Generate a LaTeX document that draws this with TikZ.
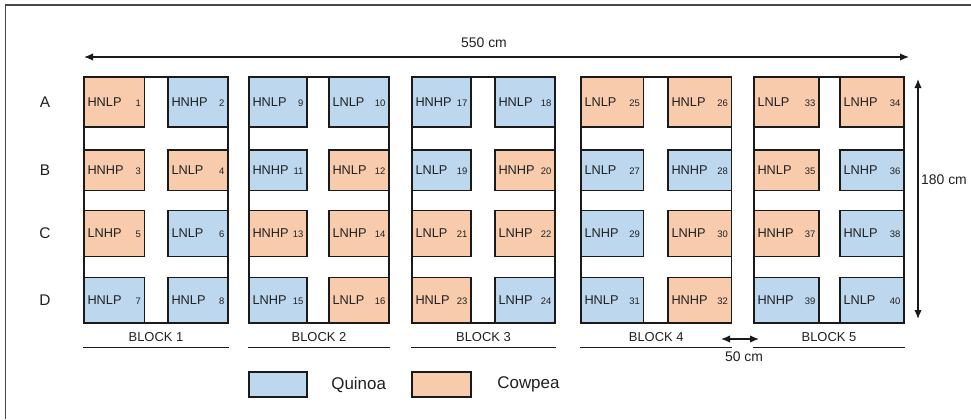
\documentclass[tikz,border=0pt]{standalone}
\usepackage{fontspec}
\setmainfont{Liberation Sans}
\usetikzlibrary{positioning,arrows.meta,calc}

\definecolor{quinoa}{HTML}{BDD7EE}
\definecolor{cowpea}{HTML}{F8CBAD}
\definecolor{edge}{HTML}{1A1A1A}
\definecolor{ink}{HTML}{202020}

% row extents (top/bottom, y grows downwards)
\def\rowtopA{77}\def\rowbotA{127}
\def\rowtopB{150}\def\rowbotB{190.5}
\def\rowtopC{210.5}\def\rowbotC{256.5}
\def\rowtopD{277.5}\def\rowbotD{323}

\newcommand{\cellnum}{\fontsize{9.5}{10}\selectfont}
% name, left, right, row, fill, treatment, plot number
\newcommand{\plotcell}[7]{%
  \edef\celltop{\csname rowtop#4\endcsname}\edef\cellbot{\csname rowbot#4\endcsname}%
  \pgfmathsetmacro\cellw{#3-#2}\pgfmathsetmacro\cellh{\cellbot-\celltop}%
  \pgfmathsetmacro\cellt{#3-#2-7}%
  \node[cell, fill=#5, minimum width=\cellw bp, minimum height=\cellh bp, text width=\cellt bp]
    (#1) at ({(#2+#3)/2},{(\celltop+\cellbot)/2}) {\noindent#6\hfill{\cellnum #7}};}

\begin{document}
\begin{tikzpicture}[x=1bp, y=-1bp,
    font=\fontsize{12.8}{14}\selectfont, text=ink,
    cell/.style={draw=edge, line width=1.7bp, inner xsep=3.5bp, inner ysep=0pt, align=left},
    blockframe/.style={draw=edge, line width=1.3bp, fill=white, minimum height=246bp},
    blocklabel/.style={font=\fontsize{13}{15}\selectfont},
    underline/.style={draw=edge, line width=1.3bp},
    rowlabel/.style={font=\fontsize{15.5}{18}\selectfont},
    dim/.style={{Latex[length=9bp,width=7.5bp]}-{Latex[length=9bp,width=7.5bp]}, line width=1.4bp, draw=edge},
    dimlabel/.style={font=\fontsize{14}{16}\selectfont},
    key/.style={draw=edge, line width=1.7bp, minimum width=58bp, minimum height=25bp},
    keylabel/.style={font=\fontsize{17}{20}\selectfont}
  ]
  \useasboundingbox (0,0) rectangle (971,419);
  \draw[draw=edge!80, line width=1.8bp] (5.5,419) -- (5.5,5) -- (971,5);

  % blocks
  \foreach \blk/\xl/\xr in {1/84/228, 2/249/389, 3/412/555, 4/581/731.5, 5/754/904}{
    \pgfmathsetmacro\bw{\xr-\xl}
    \node[blockframe, minimum width=\bw bp] (blk\blk) at ({(\xl+\xr)/2},200) {};
    \node[blocklabel] (lab\blk) at ({(\xl+\xr)/2},337) {BLOCK \blk};
    \draw[underline] ([yshift=-24bp]blk\blk.south west) -- ([yshift=-24bp]blk\blk.south east);
  }

  % rows
  \foreach \r/\y in {A/102, B/170, C/233, D/300}
    \node[rowlabel] (row\r) at (45,\y) {\r};

  % block 1
  \def\cxa{84}\def\cxb{144.5}\def\cxc{168}\def\cxd{228}
  \plotcell{p1}{\cxa}{\cxb}{A}{cowpea}{HNLP}{1}
  \plotcell{p2}{\cxc}{\cxd}{A}{quinoa}{HNHP}{2}
  \plotcell{p3}{\cxa}{\cxb}{B}{cowpea}{HNHP}{3}
  \plotcell{p4}{\cxc}{\cxd}{B}{cowpea}{LNLP}{4}
  \plotcell{p5}{\cxa}{\cxb}{C}{cowpea}{LNHP}{5}
  \plotcell{p6}{\cxc}{\cxd}{C}{quinoa}{LNLP}{6}
  \plotcell{p7}{\cxa}{\cxb}{D}{quinoa}{HNLP}{7}
  \plotcell{p8}{\cxc}{\cxd}{D}{quinoa}{HNLP}{8}
  % block 2
  \def\cxa{249}\def\cxb{307}\def\cxc{329}\def\cxd{389}
  \plotcell{p9}{\cxa}{\cxb}{A}{quinoa}{HNLP}{9}
  \plotcell{p10}{\cxc}{\cxd}{A}{quinoa}{LNLP}{10}
  \plotcell{p11}{\cxa}{\cxb}{B}{quinoa}{HNHP}{11}
  \plotcell{p12}{\cxc}{\cxd}{B}{cowpea}{HNLP}{12}
  \plotcell{p13}{\cxa}{\cxb}{C}{cowpea}{HNHP}{13}
  \plotcell{p14}{\cxc}{\cxd}{C}{cowpea}{LNHP}{14}
  \plotcell{p15}{\cxa}{\cxb}{D}{quinoa}{LNHP}{15}
  \plotcell{p16}{\cxc}{\cxd}{D}{cowpea}{LNLP}{16}
  % block 3
  \def\cxa{412}\def\cxb{471}\def\cxc{495}\def\cxd{555}
  \plotcell{p17}{\cxa}{\cxb}{A}{quinoa}{HNHP}{17}
  \plotcell{p18}{\cxc}{\cxd}{A}{quinoa}{HNLP}{18}
  \plotcell{p19}{\cxa}{\cxb}{B}{quinoa}{LNLP}{19}
  \plotcell{p20}{\cxc}{\cxd}{B}{cowpea}{HNHP}{20}
  \plotcell{p21}{\cxa}{\cxb}{C}{cowpea}{LNLP}{21}
  \plotcell{p22}{\cxc}{\cxd}{C}{cowpea}{LNHP}{22}
  \plotcell{p23}{\cxa}{\cxb}{D}{cowpea}{HNLP}{23}
  \plotcell{p24}{\cxc}{\cxd}{D}{quinoa}{LNHP}{24}
  % block 4
  \def\cxa{581}\def\cxb{643.5}\def\cxc{668}\def\cxd{731.5}
  \plotcell{p25}{\cxa}{\cxb}{A}{cowpea}{LNLP}{25}
  \plotcell{p26}{\cxc}{\cxd}{A}{cowpea}{HNLP}{26}
  \plotcell{p27}{\cxa}{\cxb}{B}{quinoa}{LNLP}{27}
  \plotcell{p28}{\cxc}{\cxd}{B}{quinoa}{HNHP}{28}
  \plotcell{p29}{\cxa}{\cxb}{C}{quinoa}{LNHP}{29}
  \plotcell{p30}{\cxc}{\cxd}{C}{cowpea}{LNHP}{30}
  \plotcell{p31}{\cxa}{\cxb}{D}{quinoa}{HNLP}{31}
  \plotcell{p32}{\cxc}{\cxd}{D}{cowpea}{HNHP}{32}
  % block 5
  \def\cxa{754}\def\cxb{819}\def\cxc{840}\def\cxd{904}
  \plotcell{p33}{\cxa}{\cxb}{A}{cowpea}{LNLP}{33}
  \plotcell{p34}{\cxc}{\cxd}{A}{cowpea}{LNHP}{34}
  \plotcell{p35}{\cxa}{\cxb}{B}{cowpea}{HNLP}{35}
  \plotcell{p36}{\cxc}{\cxd}{B}{quinoa}{LNHP}{36}
  \plotcell{p37}{\cxa}{\cxb}{C}{cowpea}{HNHP}{37}
  \plotcell{p38}{\cxc}{\cxd}{C}{quinoa}{HNLP}{38}
  \plotcell{p39}{\cxa}{\cxb}{D}{quinoa}{HNHP}{39}
  \plotcell{p40}{\cxc}{\cxd}{D}{quinoa}{LNLP}{40}

  % dimensions
  \coordinate (w0) at (84,57);   \coordinate (w1) at (909,57);
  \coordinate (h0) at (918,79);  \coordinate (h1) at (918,319);
  \coordinate (g0) at (721,339); \coordinate (g1) at (759,339);
  \draw[dim] (w0) -- (w1);
  \draw[dim] (h0) -- (h1);
  \draw[dim] (g0) -- (g1);
  \node[dimlabel] (wlab) at (484,43) {550 cm};
  \node[dimlabel] (hlab) at (944,180) {180 cm};
  \node[dimlabel] (glab) at (744,357) {50 cm};

  % legend
  \node[key, fill=quinoa] (kq) at (278,384.5) {};
  \node[keylabel, right=20bp of kq] (kqt) {Quinoa};
  \node[key, fill=cowpea, minimum width=59bp] (kc) at (441.5,384.5) {};
  \node[keylabel, right=22bp of kc] (kct) {Cowpea};
\end{tikzpicture}
\end{document}
